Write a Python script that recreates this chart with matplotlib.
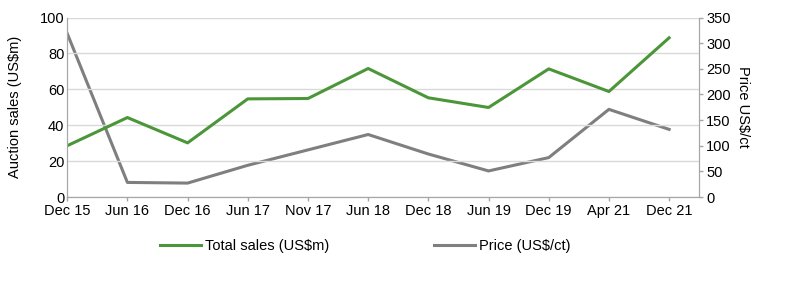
import matplotlib
matplotlib.use("Agg")
import matplotlib.pyplot as plt

plt.rcParams['font.family'] = ['Liberation Sans', 'DejaVu Sans']

periods = ["Dec 15", "Jun 16", "Dec 16", "Jun 17", "Nov 17", "Jun 18",
           "Dec 18", "Jun 19", "Dec 19", "Apr 21", "Dec 21"]
total_sales = [28.6, 44.3, 30.2, 54.7, 54.9, 71.6, 55.3, 49.9, 71.4, 58.8, 88.7]
price = [319, 28.6, 27.3, 62, 92, 122, 84, 51, 77, 171, 132]

green = "#4a9638"
grey = "#7f7f7f"
spine_col = "#a6a6a6"
fs = 10.5

fig = plt.figure(figsize=(8, 2.92), dpi=100)
ax = fig.add_axes([0.084, 0.325, 0.79, 0.615])
ax2 = ax.twinx()

x = list(range(len(periods)))
l1, = ax.plot(x, total_sales, color=green, lw=2.2, label="Total sales (US$m)")
l2, = ax2.plot(x, price, color=grey, lw=2.2, label="Price (US$/ct)")
ax.set_zorder(ax2.get_zorder() + 1)
ax.patch.set_visible(False)

ax.set_xlim(0, 10.5)
ax.set_ylim(0, 100)
ax2.set_ylim(0, 350)
ax.set_yticks(range(0, 101, 20))
ax2.set_yticks(range(0, 351, 50))
ax.set_xticks(x)
ax.set_xticklabels(periods)
ax.yaxis.grid(True, color="#d9d9d9", lw=1)
ax.set_axisbelow(True)

for a in (ax, ax2):
    a.spines['top'].set_visible(False)
    for s in ('left', 'right', 'bottom'):
        a.spines[s].set_color(spine_col)
    a.tick_params(labelsize=fs, colors='black', length=3, width=1, pad=2)
    a.tick_params(axis='both', color=spine_col)
ax.tick_params(axis='y', length=0)

ax.set_ylabel("Auction sales (US$m)", fontsize=fs)
ax.yaxis.set_label_coords(-0.071, 0.5)
ax2.set_ylabel("Price US$/ct", fontsize=fs, rotation=270, labelpad=14)

leg_y = 1 - 246 / 292
for handle, xpos in ((l1, 160 / 800), (l2, 434 / 800)):
    fig.legend(handles=[handle], loc='center left', bbox_to_anchor=(xpos, leg_y),
               frameon=False, fontsize=fs, handlelength=2.8, handletextpad=0.3,
               borderpad=0, borderaxespad=0)

fig.savefig("out.png", dpi=100)
